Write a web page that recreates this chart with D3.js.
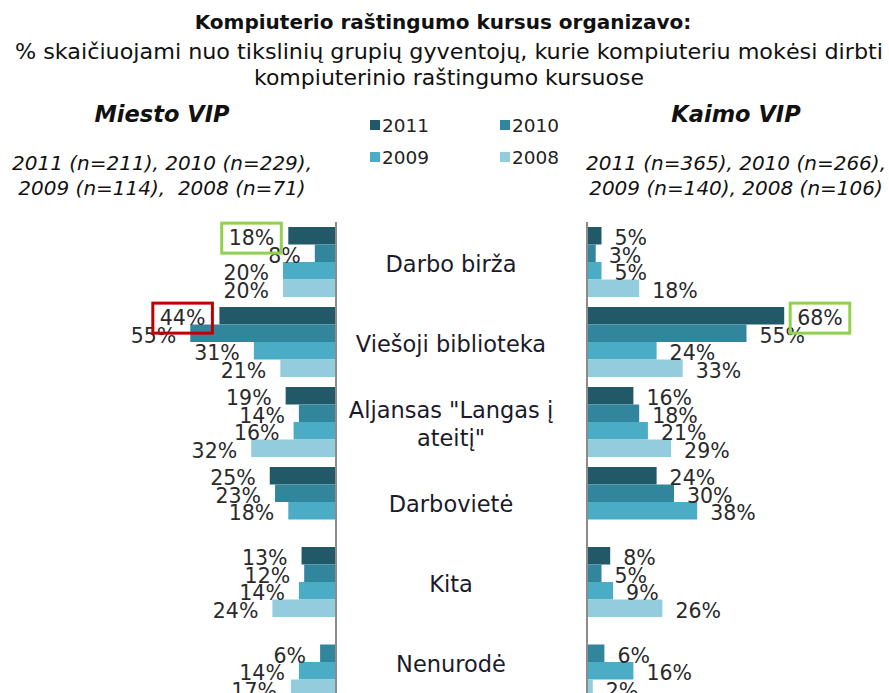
<!DOCTYPE html>
<html lang="lt">

<head>
    <meta charset="UTF-8">
    <title>Kompiuterio raštingumo kursai</title>
    <script src="https://cdn.jsdelivr.net/npm/d3@7"></script>
    <style>
        body { margin: 0; background: #fff; }
        svg { font-family: "DejaVu Sans", Verdana, sans-serif; display: block; }
        .note { white-space: pre; }
    </style>
</head>

<body>
    <svg width="889" height="693"></svg>

    <script>
        // categories and series
        const categories = ["Darbo birža", "Viešoji biblioteka", "Aljansas \"Langas į ateitį\"", "Darbovietė", "Kita", "Nenurodė"]
        const years = ["2011", "2010", "2009", "2008"]
        const colors = ["#215968", "#31859c", "#4bacc6", "#93cddd"]

        const miesto2011 = [18, 44, 19, 25, 13, null]
        const miesto2010 = [8, 55, 14, 23, 12, 6]
        const miesto2009 = [20, 31, 16, 18, 14, 14]
        const miesto2008 = [20, 21, 32, null, 24, 17]

        const kaimo2011 = [5, 68, 16, 24, 8, null]
        const kaimo2010 = [3, 55, 18, 30, 5, 6]
        const kaimo2009 = [5, 24, 21, 38, 9, 16]
        const kaimo2008 = [18, 33, 29, null, 26, 2]

        const miestoNotes = ["2011 (n=211), 2010 (n=229),", "2009 (n=114),  2008 (n=71)"]
        const kaimoNotes = ["2011 (n=365), 2010 (n=266),", "2009 (n=140), 2008 (n=106)"]

        // boxed labels: [side, category index, year index, colour]
        const highlights = [
            ["left", 0, 0, "#92d050"],
            ["left", 1, 0, "#c00000"],
            ["right", 1, 0, "#92d050"]
        ]

        const svg = d3.select('svg')

        // header
        svg.append('text').attr('x', 443).attr('y', 29).attr('text-anchor', 'middle')
            .attr('font-size', 20).attr('font-weight', 'bold').attr('fill', '#111')
            .text('Kompiuterio raštingumo kursus organizavo:')
        const sub = ['% skaičiuojami nuo tikslinių grupių gyventojų, kurie kompiuteriu mokėsi dirbti', 'kompiuterinio raštingumo kursuose']
        sub.forEach((s, i) => {
            svg.append('text').attr('x', 449).attr('y', 59 + i * 26).attr('text-anchor', 'middle')
                .attr('font-size', 22).attr('fill', '#111')
                .attr('textLength', i === 0 ? 868 : null).attr('lengthAdjust', 'spacingAndGlyphs')
                .text(s)
        })

        const sideHead = (cx, title, notes) => {
            svg.append('text').attr('x', cx).attr('y', 122).attr('text-anchor', 'middle')
                .attr('font-size', 22.5).attr('font-weight', 'bold').attr('font-style', 'italic')
                .attr('fill', '#111').text(title)
            notes.forEach((n, i) => {
                svg.append('text').attr('class', 'note').attr('x', cx).attr('y', 170 + i * 25).attr('text-anchor', 'middle')
                    .attr('font-size', 20).attr('font-style', 'italic').attr('fill', '#111').text(n)
            })
        }
        sideHead(162, 'Miesto VIP', miestoNotes)
        sideHead(736, 'Kaimo VIP', kaimoNotes)

        // legend
        const legend = svg.append('g').selectAll('g').data(years).join('g')
            .attr('transform', (d, i) => `translate(${370 + (i % 2) * 130},${125 + Math.floor(i / 2) * 32})`)
        legend.append('rect').attr('x', 0).attr('y', -5).attr('width', 10).attr('height', 10)
            .attr('fill', (d, i) => colors[i])
        legend.append('text').attr('x', 12).attr('y', 0).attr('dy', '0.36em')
            .attr('font-size', 18.5).attr('fill', '#222').text(d => d)

        // scales
        const y = d3.scaleBand().domain(d3.range(categories.length)).range([222, 702])
            .paddingInner(0.125).paddingOuter(0.0625)
        const yy = d3.scaleBand().domain(years).range([0, y.bandwidth()])
        const xL = d3.scaleLinear().domain([0, 60]).range([336, 177])
        const xR = d3.scaleLinear().domain([0, 70]).range([587, 790])

        const miesto = [miesto2011, miesto2010, miesto2009, miesto2008]
        const kaimo = [kaimo2011, kaimo2010, kaimo2009, kaimo2008]

        const toRows = (series) => series.flatMap((vals, yi) =>
            vals.map((v, ci) => ({ ci, yi, year: years[yi], v })).filter(d => d.v != null))

        const drawSide = (series, x, side) => {
            const g = svg.append('g')
            const rows = toRows(series)
            g.selectAll('rect').data(rows).join('rect')
                .attr('x', d => Math.min(x(0), x(d.v)))
                .attr('width', d => Math.abs(x(d.v) - x(0)))
                .attr('y', d => y(d.ci) + yy(d.year))
                .attr('height', yy.bandwidth())
                .attr('fill', d => colors[d.yi])
            g.selectAll('text').data(rows).join('text')
                .attr('class', d => `lbl-${side}-${d.ci}-${d.yi}`)
                .attr('x', d => side === 'left' ? x(d.v) - 14 : x(d.v) + 13)
                .attr('y', d => y(d.ci) + yy(d.year) + yy.bandwidth() / 2 + 2)
                .attr('dy', '0.36em')
                .attr('text-anchor', side === 'left' ? 'end' : 'start')
                .attr('font-size', 20.5).attr('fill', '#2a2a2a')
                .text(d => d.v + '%')
            // vertical axis line
            svg.append('line').attr('x1', x(0)).attr('x2', x(0)).attr('y1', 222).attr('y2', 693)
                .attr('stroke', '#8c8c8c').attr('stroke-width', 2)
        }
        drawSide(miesto, xL, 'left')
        drawSide(kaimo, xR, 'right')

        // category labels between the two charts, wrapped
        const cx = 451
        categories.forEach((c, i) => {
            const t = svg.append('text').attr('text-anchor', 'middle').attr('font-size', 22.5).attr('fill', '#1a1a2a')
            const words = c.split(' ')
            let lines = [], line = []
            words.forEach(w => {
                line.push(w)
                t.text(line.join(' '))
                if (t.node().getComputedTextLength() > 235 && line.length > 1) {
                    line.pop(); lines.push(line.join(' ')); line = [w]
                }
            })
            lines.push(line.join(' '))
            t.text(null)
            const mid = y(i) + y.bandwidth() / 2 + 2
            lines.forEach((l, k) => {
                t.append('tspan').attr('x', cx)
                    .attr('y', mid + (k - (lines.length - 1) / 2) * 28)
                    .attr('dy', '0.36em').text(l)
            })
        })

        // boxes round the highlighted labels
        highlights.forEach(([side, ci, yi, col]) => {
            const node = svg.select(`.lbl-${side}-${ci}-${yi}`).node()
            if (!node) return
            const b = node.getBBox()
            svg.append('rect').attr('x', b.x - 7).attr('y', b.y - 3)
                .attr('width', b.width + 14).attr('height', b.height + 6)
                .attr('fill', 'none').attr('stroke', col).attr('stroke-width', 3)
        })
    </script>
</body>

</html>
